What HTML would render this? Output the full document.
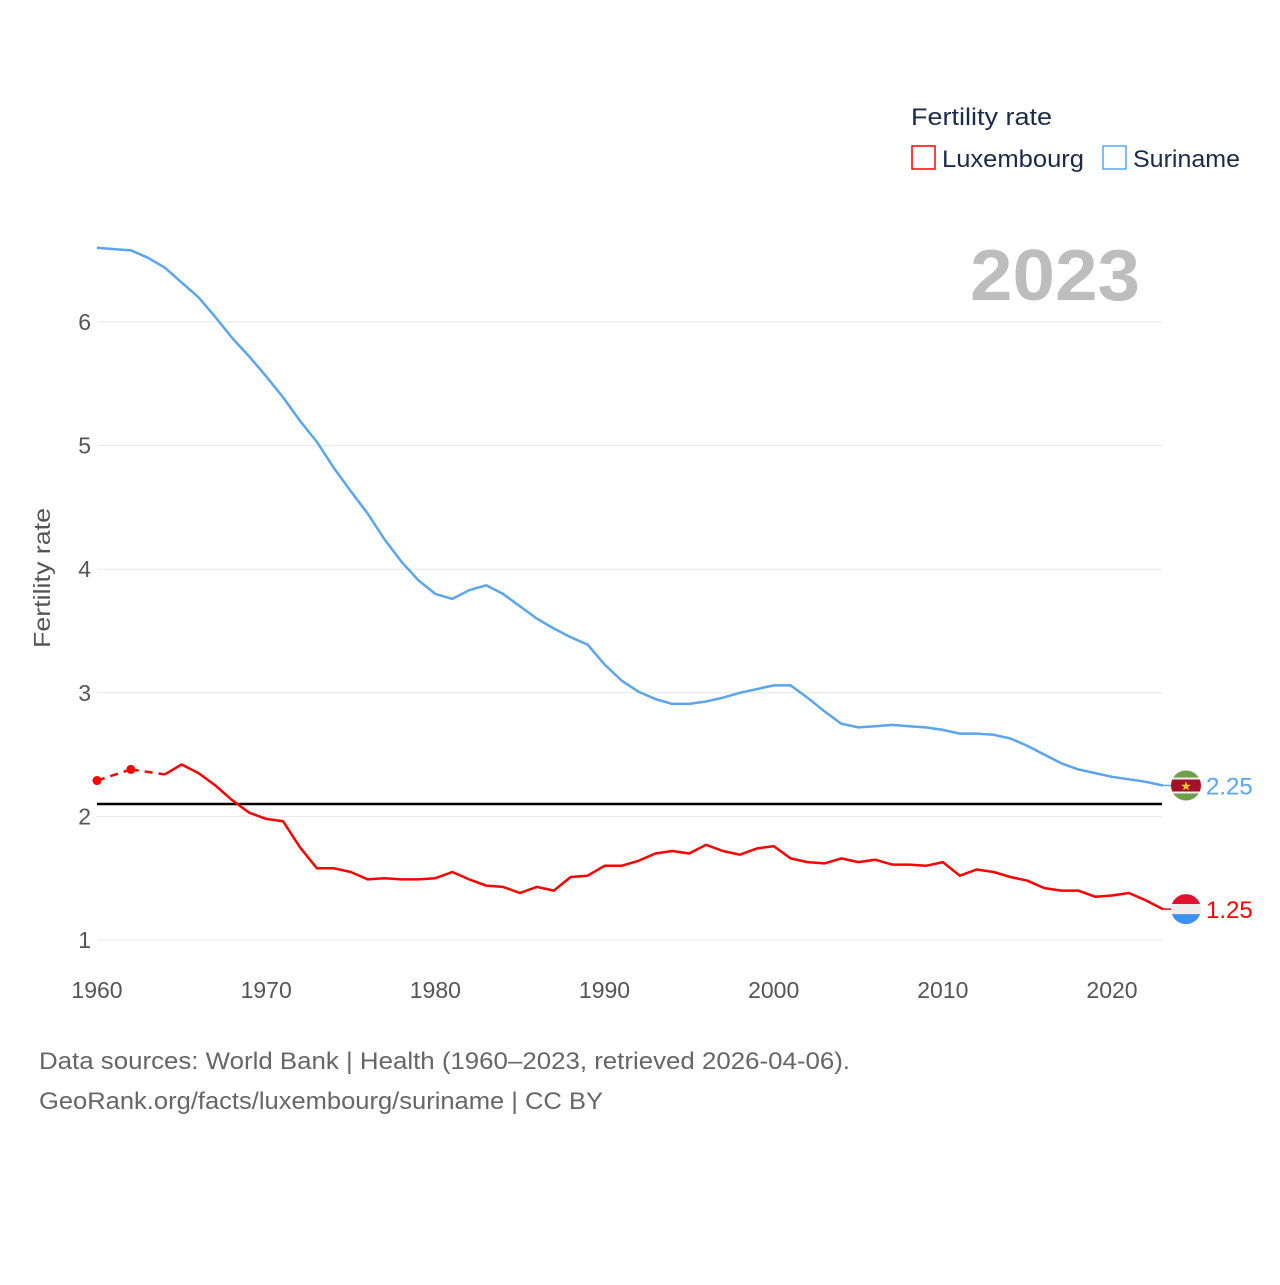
<!DOCTYPE html>
<html><head><meta charset="utf-8"><style>
body{margin:0;background:#fff;font-family:"Liberation Sans",sans-serif}
svg text{font-family:"Liberation Sans",sans-serif}
</style></head><body>
<svg id="chart" width="1280" height="1280" viewBox="0 0 1280 1280" xmlns="http://www.w3.org/2000/svg">
<rect width="1280" height="1280" fill="#fff"/>
<g id="grid"></g>
<g id="marks"></g>
<text x="911" y="125" font-size="24" fill="#1a2b4a" textLength="141" lengthAdjust="spacingAndGlyphs">Fertility rate</text>
<g><rect x="912" y="146" width="23" height="23" fill="none" stroke="#ff0000" stroke-width="1.5"/><text x="942" y="167" font-size="24" fill="#1a2b4a" textLength="142" lengthAdjust="spacingAndGlyphs">Luxembourg</text></g>
<g><rect x="1103" y="146" width="23" height="23" fill="none" stroke="#5aa5ee" stroke-width="1.5"/><text x="1133" y="167" font-size="24" fill="#1a2b4a" textLength="107" lengthAdjust="spacingAndGlyphs">Suriname</text></g>
<text x="970" y="300" font-size="72" font-weight="bold" fill="#bdbdbd" textLength="170" lengthAdjust="spacingAndGlyphs">2023</text>
<text transform="translate(50,578) rotate(-90)" font-size="23" fill="#555" text-anchor="middle" textLength="140" lengthAdjust="spacingAndGlyphs">Fertility rate</text>
<text x="39" y="1069" font-size="24" fill="#666" textLength="811" lengthAdjust="spacingAndGlyphs">Data sources: World Bank | Health (1960–2023, retrieved 2026-04-06).</text>
<text x="39" y="1109" font-size="24" fill="#666" textLength="564" lengthAdjust="spacingAndGlyphs">GeoRank.org/facts/luxembourg/suriname | CC BY</text>
</svg>
<script>
const years=[];for(let y=1960;y<=2023;y++)years.push(y);
const suriname=[6.60,6.59,6.58,6.52,6.44,6.32,6.20,6.04,5.87,5.72,5.56,5.39,5.20,5.03,4.82,4.63,4.45,4.24,4.06,3.91,3.80,3.76,3.83,3.87,3.80,3.70,3.60,3.52,3.45,3.39,3.23,3.10,3.01,2.95,2.91,2.91,2.93,2.96,3.00,3.03,3.06,3.06,2.96,2.85,2.75,2.72,2.73,2.74,2.73,2.72,2.70,2.67,2.67,2.66,2.63,2.57,2.50,2.43,2.38,2.35,2.32,2.30,2.28,2.25];
const luxembourg=[2.29,null,2.38,null,2.34,2.42,2.35,2.25,2.13,2.03,1.98,1.96,1.75,1.58,1.58,1.55,1.49,1.50,1.49,1.49,1.50,1.55,1.49,1.44,1.43,1.38,1.43,1.40,1.51,1.52,1.60,1.60,1.64,1.70,1.72,1.70,1.77,1.72,1.69,1.74,1.76,1.66,1.63,1.62,1.66,1.63,1.65,1.61,1.61,1.60,1.63,1.52,1.57,1.55,1.51,1.48,1.42,1.40,1.40,1.35,1.36,1.38,1.32,1.25];
const yTicks=[1,2,3,4,5,6];
const xTicks=[1960,1970,1980,1990,2000,2010,2020];
const replacementRate=2.1;
const NS='http://www.w3.org/2000/svg';
const X=y=>97+(y-1960)*(1015/60);
const Y=v=>940-(v-1)*123.6;
function mk(tag,attrs,parent){const e=document.createElementNS(NS,tag);for(const k in attrs)e.setAttribute(k,attrs[k]);parent.appendChild(e);return e;}
const grid=document.getElementById('grid'),marks=document.getElementById('marks');
yTicks.forEach(t=>{
 const l=mk('line',{x1:97,x2:1162,y1:Y(t),y2:Y(t),stroke:'#e6e6e6','stroke-width':1},grid);
 
 
 const tx=mk('text',{x:91,y:Y(t)+8,'font-size':23,fill:'#555','text-anchor':'end'},grid);tx.textContent=t;
 
 
});
xTicks.forEach(t=>{
 const tx=mk('text',{x:X(t),y:998,'font-size':23,fill:'#555','text-anchor':'middle'},grid);tx.textContent=t;
 
 
});
const rl=mk('line',{x1:97,x2:1162,y1:Y(replacementRate),y2:Y(replacementRate),stroke:'#000','stroke-width':2.5},marks);


function drawSeries(vals,color,name){
 let solid='',dashed='',lastIdx=-1;
 vals.forEach((v,i)=>{
  if(v==null){return;}
  const p=X(years[i]).toFixed(1)+','+Y(v).toFixed(1);
  if(lastIdx>=0&&i-lastIdx>1){dashed+='M'+X(years[lastIdx]).toFixed(1)+','+Y(vals[lastIdx]).toFixed(1)+'L'+p;}
  else if(lastIdx>=0){solid+=(solid?'L':'M'+X(years[lastIdx]).toFixed(1)+','+Y(vals[lastIdx]).toFixed(1)+'L')+p;}
  const next=vals[i+1];
  if(lastIdx<0||i-lastIdx>1){ if(next!==undefined&&next===null||lastIdx<0&&vals[i+1]===null){const c=mk('circle',{cx:X(years[i]),cy:Y(v),r:4.5,fill:color},marks);}}
  if(lastIdx>=0&&i-lastIdx>1&&vals[i+1]!=null){solid+='M'+p;}
  lastIdx=i;
 });
 if(dashed){const d=mk('path',{d:dashed,fill:'none',stroke:color,'stroke-width':2.5,'stroke-dasharray':'8,6'},marks);}
 const s=mk('path',{d:solid,fill:'none',stroke:color,'stroke-width':2.5,'stroke-linejoin':'round'},marks);
 
 
}
drawSeries(suriname,'#5aa5ee','suriname');
drawSeries(luxembourg,'#ff0000','luxembourg');
function endLabel(v,color,name,flag){
 const cy=Y(v),cx=1186;
 const g=mk('g',{},marks);
 
 
 mk('line',{x1:1162,x2:1172,y1:cy,y2:cy,stroke:color,'stroke-width':1.5},g);
 const cid='clip'+name;const cp=mk('clipPath',{id:cid},g);mk('circle',{cx:cx,cy:cy,r:15},cp);
 const fg=mk('g',{'clip-path':'url(#'+cid+')'},g);
 flag.forEach(b=>mk('rect',{x:cx-15,y:cy-15+b[0],width:30,height:b[1],fill:b[2]},fg));
 if(name==='suriname'){const st=mk('text',{x:cx,y:cy+5,'font-size':13,fill:'#f2c230','text-anchor':'middle'},g);st.textContent='★';}
 const t=mk('text',{x:1206,y:cy+9,'font-size':24,fill:color},g);t.textContent=v.toFixed(2);
}
endLabel(suriname[suriname.length-1],'#5aa5ee','suriname',[[0,7,'#6e9f4a'],[7,2,'#eee'],[9,12,'#a3122a'],[21,2,'#eee'],[23,7,'#6e9f4a']]);
endLabel(luxembourg[luxembourg.length-1],'#ff0000','luxembourg',[[0,10,'#e0102e'],[10,10,'#eeeeee'],[20,10,'#3d8ff0']]);
</script>
</body></html>
